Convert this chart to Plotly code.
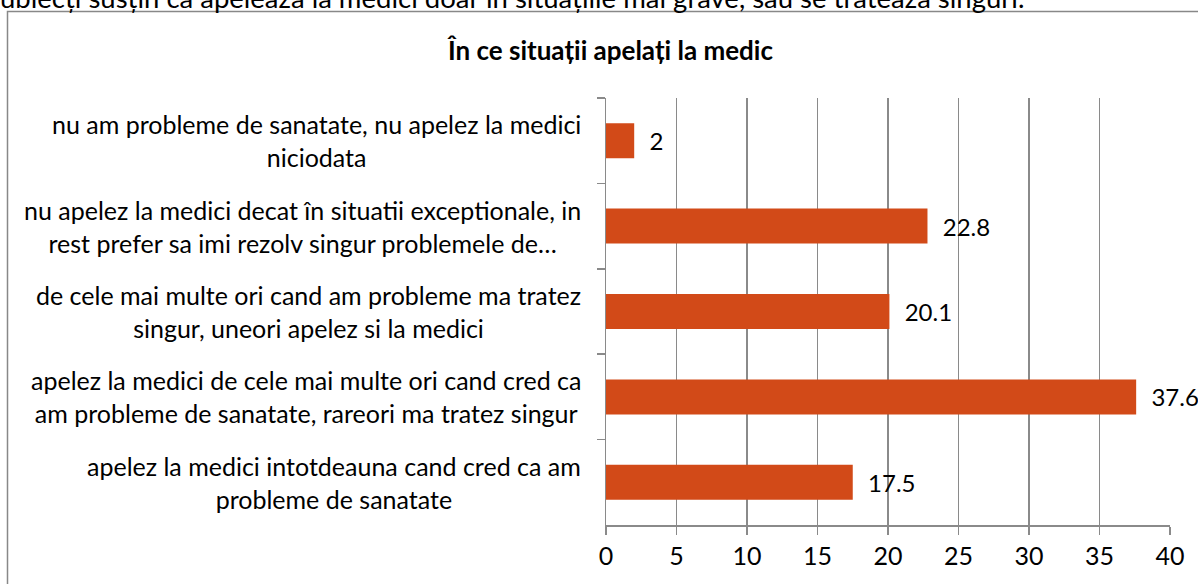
import plotly.graph_objects as go

categories = [
    "nu am probleme de sanatate, nu apelez la medici<br>niciodata",
    "nu apelez la medici decat în situatii exceptionale, in<br>rest prefer sa imi rezolv singur problemele de…",
    "de cele mai multe ori cand am probleme ma tratez<br>singur, uneori apelez si la medici",
    "apelez la medici de cele mai multe ori cand cred ca<br>am probleme de sanatate, rareori ma tratez singur",
    "apelez la medici intotdeauna cand cred ca am<br>probleme de sanatate",
]
values = [2, 22.8, 20.1, 37.6, 17.5]
x_ticks = [0, 5, 10, 15, 20, 25, 30, 35, 40]
title_text = "În ce situații apelați la medic"
header_text = "ubiecți susțin ca apelează la medici doar în situațiile mai grave, sau se tratează singuri."

W, H = 1198, 584
L, T = 606, 98          # plot area, window coords
PW, PH = 564, 427

def px_x(p):
    return (p - L) / PW

def px_y(p):
    return 1 + (T - p) / PH

FONT = "Lato"
BAR_COLOR = "#D24A18"
GRID = "#8a8a8a"

ids = list(range(len(categories)))

fig = go.Figure()
fig.add_trace(go.Bar(
    x=values,
    y=[str(i) for i in ids],
    orientation="h",
    marker=dict(color=BAR_COLOR, line=dict(width=0)),
    width=0.41,
    text=["\u00a0\u00a0" + str(v) for v in values],
    textposition="outside",
    textfont=dict(family=FONT, size=24, color="black"),
    cliponaxis=False,
    constraintext="none",
    hoverinfo="skip",
))

annotations = []
for i, c in enumerate(categories):
    annotations.append(dict(
        text=c, xref="paper", yref="y", x=px_x(583), y=str(i),
        xanchor="right", yanchor="middle", align="center", showarrow=False,
        font=dict(family=FONT, size=25, color="black"),
    ))

annotations.append(dict(
    text="<b>" + title_text + "</b>", xref="paper", yref="paper",
    x=px_x(610), y=px_y(50), xanchor="center", yanchor="middle",
    showarrow=False, font=dict(family=FONT, size=26, color="black"),
))
annotations.append(dict(
    text=header_text, xref="paper", yref="paper",
    x=px_x(-2), y=px_y(16), xanchor="left", yanchor="bottom",
    showarrow=False, font=dict(family=FONT, size=27.5, color="black"),
))

shapes = [dict(
    type="rect", xref="paper", yref="paper",
    x0=px_x(7.5), x1=px_x(1230), y0=px_y(640), y1=px_y(11.5),
    line=dict(color="#888888", width=1.5), fillcolor="rgba(0,0,0,0)", layer="below",
)]

fig.update_layout(
    width=W, height=H,
    margin=dict(l=L, r=W - L - PW, t=T, b=H - T - PH, pad=0),
    paper_bgcolor="white", plot_bgcolor="white",
    showlegend=False,
    annotations=annotations,
    shapes=shapes,
    xaxis=dict(
        range=[0, 40], tickvals=x_ticks, ticktext=[str(t) for t in x_ticks],
        showgrid=True, gridcolor=GRID, gridwidth=1.5,
        showline=True, linecolor=GRID, linewidth=1.5,
        ticks="outside", ticklen=8, tickcolor=GRID, tickwidth=1.5,
        tickfont=dict(family=FONT, size=25, color="black"),
        zeroline=False, fixedrange=True,
    ),
    yaxis=dict(
        type="category", categoryarray=[str(i) for i in ids],
        autorange="reversed", tickson="boundaries",
        showticklabels=False, showgrid=False,
        showline=True, linecolor=GRID, linewidth=1.5,
        ticks="outside", ticklen=8, tickcolor=GRID, tickwidth=1.5,
        fixedrange=True,
    ),
)

fig.write_html(
    "out.html",
    config={"displayModeBar": False, "staticPlot": True},
    post_script="document.body.style.margin='0px';document.body.style.overflow='hidden';",
)
